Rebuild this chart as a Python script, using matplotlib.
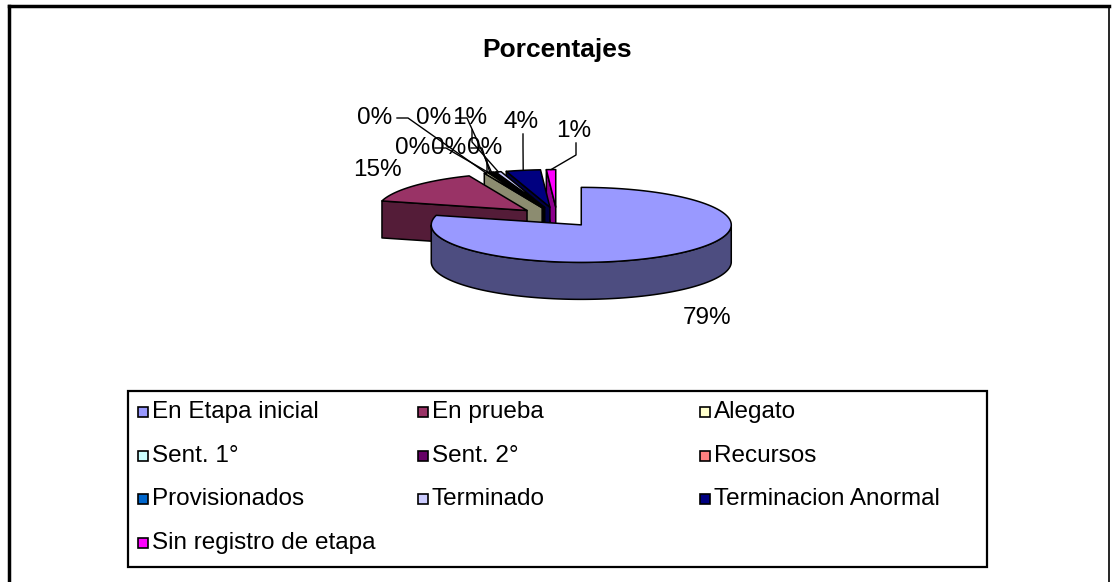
import numpy as np
import matplotlib
matplotlib.use("Agg")
import matplotlib.pyplot as plt
from matplotlib.patches import Polygon, Rectangle
from matplotlib.colors import to_rgb

plt.rcParams['font.family'] = ['Liberation Sans', 'DejaVu Sans']

# datos
etapas = ["En Etapa inicial", "En prueba", "Alegato", "Sent. 1°", "Sent. 2°", "Recursos",
          "Provisionados", "Terminado", "Terminacion Anormal", "Sin registro de etapa"]
porcentajes = [79.1, 14.6, 0.4, 0.1, 0.1, 0.2, 0.2, 0.6, 3.7, 1.0]
colores = ["#9999FF", "#993366", "#FFFFCC", "#CCFFFF", "#660066", "#FF8080",
           "#0066CC", "#CCCCFF", "#000080", "#FF00FF"]

# posiciones de las etiquetas (pixeles) y si llevan linea guia
label_xy = [(707, 318), (377, 170), (375, 118), (413, 148), (449, 148),
            (434, 118), (485, 148), (470, 118), (521, 122), (574, 131)]
con_guia = [False, False, True, True, True, True, True, True, True, True]

W, H = 1112, 582
fig = plt.figure(figsize=(W / 100, H / 100), dpi=100)
ax = fig.add_axes([0, 0, 1, 1])
ax.set_xlim(0, W)
ax.set_ylim(H, 0)
ax.axis('off')

# marco del grafico
ax.plot([9, 9], [H + 5, 6], color='black', lw=2.5, solid_capstyle='projecting')
ax.plot([9, 1109], [6, 6], color='black', lw=2.5, solid_capstyle='projecting')
ax.plot([1109, 1109], [6, H + 5], color='black', lw=1.2)

ax.text(557, 50, "Porcentajes", ha='center', va='center', fontsize=19, fontweight='bold')

# pastel 3D (oblicuo) en pixeles
cx0, cy0 = 557, 217
RX, RY, PROF = 150, 37.5, 37
EXPL = 0.265

total = sum(porcentajes)
angulos = 90 - 360 * np.cumsum([0] + porcentajes) / total  # sentido horario desde las 12


def borde(cx, cy, t):
    t = np.radians(t)
    return cx + RX * np.cos(t), cy - RY * np.sin(t)


rebanadas = []
for i, c in enumerate(colores):
    a_s, a_e = angulos[i], angulos[i + 1]
    mid = (a_s + a_e) / 2
    cx = cx0 + EXPL * RX * np.cos(np.radians(mid))
    cy = cy0 - EXPL * RY * np.sin(np.radians(mid))
    rebanadas.append((cy, -mid, i, a_s, a_e, mid, cx))

# de atras hacia adelante
for cy, _, i, a_s, a_e, mid, cx in sorted(rebanadas):
    base = np.array(to_rgb(colores[i]))
    oscuro = tuple(base * 0.5)
    kw = dict(edgecolor='black', lw=1.1, joinstyle='round')

    # caras radiales visibles
    for a, normal in ((a_s, a_s + 90), (a_e, a_e - 90)):
        if np.sin(np.radians(normal)) < -1e-6:
            bx, by = borde(cx, cy, a)
            pts = [(cx, cy), (bx, by), (bx, by + PROF), (cx, cy + PROF)]
            ax.add_patch(Polygon(pts, closed=True, facecolor=tuple(base * 0.55), **kw))

    # pared exterior frontal
    t = np.linspace(a_e, a_s, 600)
    frente = np.sin(np.radians(t)) < 0
    if frente.any():
        idx = np.flatnonzero(frente)
        cortes = np.split(idx, np.flatnonzero(np.diff(idx) > 1) + 1)
        for seg in cortes:
            xs, ys = borde(cx, cy, t[seg])
            pts = list(zip(xs, ys)) + list(zip(xs[::-1], ys[::-1] + PROF))
            ax.add_patch(Polygon(pts, closed=True, facecolor=oscuro, **kw))

    # cara superior
    t = np.linspace(a_s, a_e, max(3, int(abs(a_s - a_e) * 2)))
    xs, ys = borde(cx, cy, t)
    pts = [(cx, cy)] + list(zip(xs, ys))
    ax.add_patch(Polygon(pts, closed=True, facecolor=colores[i], **kw))

# etiquetas de porcentaje
for i, v in enumerate(porcentajes):
    lx, ly = label_xy[i]
    if con_guia[i]:
        a_s, a_e = angulos[i], angulos[i + 1]
        mid = (a_s + a_e) / 2
        cx = cx0 + EXPL * RX * np.cos(np.radians(mid))
        cy = cy0 - EXPL * RY * np.sin(np.radians(mid))
        tx, ty = borde(cx, cy, mid)
        if tx - lx > 40:
            xs = [lx + 22, lx + 33, tx]
            ys = [ly, ly, ty]
        else:
            xs = [lx + 2, lx + 2, tx]
            ys = [ly + 12, ly + 24, ty]
        ax.plot(xs, ys, color='black', lw=1.0)
    ax.text(lx, ly, f"{round(v / total * 100):.0f}%", ha='center', va='center',
            fontsize=17.5)

# leyenda
ax.add_patch(Rectangle((128, 391), 859, 176, fill=False, edgecolor='black', lw=1.6))
col_x = [138, 418, 700]
fila_y0, fila_dy = 412, 43.5
for i, (nombre, c) in enumerate(zip(etapas, colores)):
    fila, col = divmod(i, 3)
    x = col_x[col]
    y = fila_y0 + fila * fila_dy
    ax.add_patch(Rectangle((x, y - 5), 10, 10, facecolor=c, edgecolor='black', lw=1.2))
    ax.text(x + 14, y, nombre, ha='left', va='center', fontsize=17.5)

fig.savefig("out.png", dpi=100)
